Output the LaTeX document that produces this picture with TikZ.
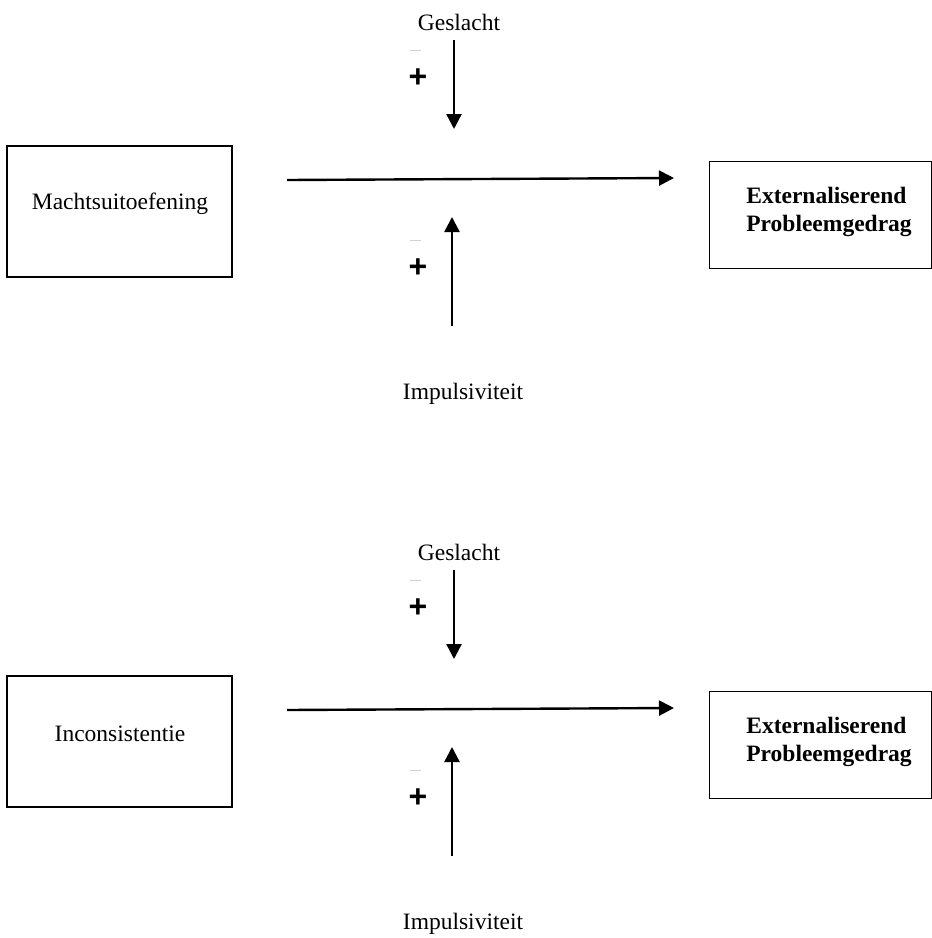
\documentclass[tikz,border=0pt]{standalone}
\usepackage{fontspec}
\setmainfont{Liberation Serif}
\newfontfamily\plusfont{Liberation Sans}
\usetikzlibrary{arrows.meta}
\begin{document}
\begin{tikzpicture}[x=1pt,y=-1pt,
  box/.style={draw,line width=1.3pt},
  lbl/.style={font=\fontsize{23.5}{28}\selectfont,inner sep=0pt},
  outlbl/.style={font=\fontsize{23.5}{28}\selectfont\bfseries,inner sep=0pt,align=left},
  plus/.style={font=\plusfont\fontsize{32}{36}\selectfont\bfseries,inner sep=0pt},
  arr/.style={line width=2.4pt,-{Triangle[length=15pt,width=15pt]}},
  faint/.style={draw=black!18,line width=1pt}]
\useasboundingbox (0,0) rectangle (932,938);
\foreach \dy/\cause/\sfx in {0/Machtsuitoefening/a,530/Inconsistentie/b}{
  % left box
  \draw[box] (7,146+\dy) rectangle (232,277+\dy);
  \node[lbl] (cause\sfx) at (120,204+\dy) {\cause};
  % right box
  \draw[box,line width=1pt] (709,161+\dy) rectangle (931,268+\dy);
  \node[outlbl] (out\sfx) at (829,212+\dy) {Externaliserend\\Probleemgedrag};
  % main arrow
  \coordinate (hs\sfx) at (287,180+\dy);
  \coordinate (he\sfx) at (674,178+\dy);
  \draw[arr] (hs\sfx) -- (he\sfx);
  % moderator Geslacht
  \node[lbl] (gesl\sfx) at (459,22+\dy) {Geslacht};
  \coordinate (gs\sfx) at (454,40+\dy);
  \coordinate (ge\sfx) at (454,129+\dy);
  \draw[arr] (gs\sfx) -- (ge\sfx);
  \node[plus] (pg\sfx) at (418,78+\dy) {+};
  \draw[faint] (410,50+\dy) -- (421,50+\dy);
  % moderator Impulsiviteit
  \node[lbl] (imp\sfx) at (463,394+\dy) {Impulsiviteit};
  \coordinate (is\sfx) at (452,326+\dy);
  \coordinate (ie\sfx) at (452,217+\dy);
  \draw[arr] (is\sfx) -- (ie\sfx);
  \node[plus] (pi\sfx) at (418,268+\dy) {+};
  \draw[faint] (410,240+\dy) -- (421,240+\dy);
}
\end{tikzpicture}
\end{document}
